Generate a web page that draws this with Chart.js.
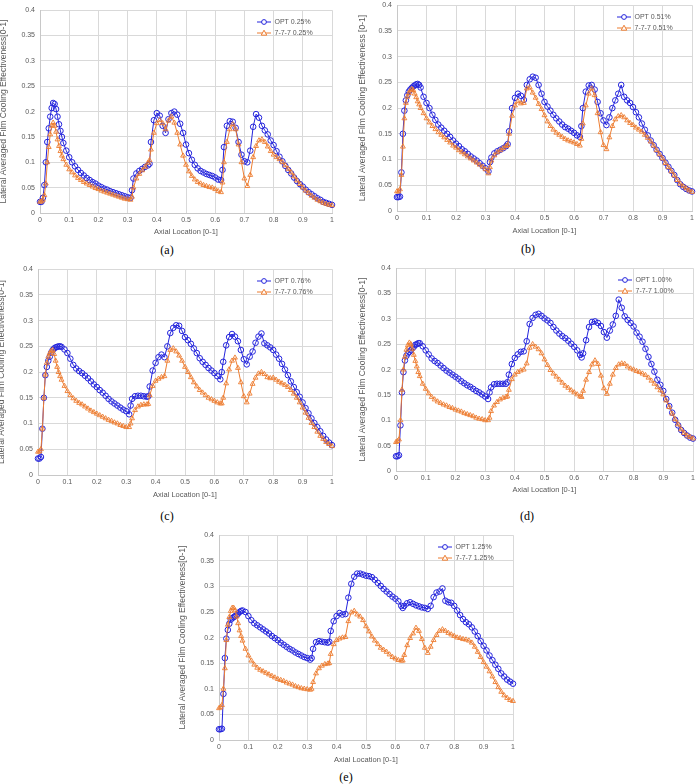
<!DOCTYPE html>
<html>
<head>
<meta charset="utf-8">
<script src="https://cdn.jsdelivr.net/npm/chart.js@4.4.1/dist/chart.umd.min.js"></script>
<style>
  body { margin: 0; background: #fff; width: 699px; height: 784px; position: relative; overflow: hidden; }
  canvas { position: absolute; }
  .cap { position: absolute; font-family: "Liberation Serif", "Times New Roman", serif; font-size: 12px; color: #000; transform: translate(-50%, -50%); }
</style>
</head>
<body>
<canvas id="ca"></canvas>
<canvas id="cb"></canvas>
<canvas id="cc"></canvas>
<canvas id="cd"></canvas>
<canvas id="ce"></canvas>
<div class="cap" style="left:167px;top:250px">(a)</div>
<div class="cap" style="left:528px;top:249px">(b)</div>
<div class="cap" style="left:167px;top:516px">(c)</div>
<div class="cap" style="left:527px;top:516px">(d)</div>
<div class="cap" style="left:346px;top:777px">(e)</div>
<script>
// shared axial stations [0-1]
const axialLocation = [
  0, 0.005, 0.01, 0.015, 0.02, 0.025, 0.03, 0.035, 0.04, 0.045, 0.05, 0.055, 0.06, 0.065, 0.07, 0.075, 0.08, 0.09,
  0.10, 0.11, 0.12, 0.13, 0.14, 0.15, 0.16, 0.17, 0.18, 0.19, 0.20, 0.21, 0.22, 0.23, 0.24, 0.25, 0.26, 0.27, 0.28, 0.29, 0.30, 0.31,
  0.315, 0.32, 0.33, 0.34, 0.35, 0.36, 0.37, 0.375,
  0.38, 0.39, 0.40, 0.41, 0.42, 0.43, 0.44, 0.45, 0.46, 0.47, 0.48, 0.49, 0.50, 0.51, 0.52, 0.53, 0.54, 0.55, 0.56, 0.57, 0.58, 0.59, 0.60, 0.61, 0.62,
  0.625, 0.63, 0.64, 0.65, 0.66, 0.67, 0.68, 0.69, 0.70, 0.71, 0.72, 0.73, 0.74, 0.75, 0.76, 0.77, 0.78, 0.79, 0.80, 0.81, 0.82, 0.83, 0.84, 0.85, 0.86, 0.87, 0.88, 0.89, 0.90, 0.91, 0.92, 0.93, 0.94, 0.95, 0.96, 0.97, 0.98, 0.99, 1.0
];

const opt025 = [
  0.022, 0.022, 0.03, 0.055, 0.1, 0.14, 0.167, 0.19, 0.207, 0.217, 0.215, 0.205, 0.19, 0.175, 0.162, 0.15, 0.138, 0.123,
  0.11, 0.1, 0.092, 0.085, 0.079, 0.074, 0.069, 0.065, 0.061, 0.058, 0.054, 0.051, 0.048, 0.046, 0.043, 0.041, 0.039, 0.037, 0.035, 0.033, 0.031, 0.03,
  0.045, 0.068, 0.078, 0.083, 0.087, 0.091, 0.094, 0.097,
  0.14, 0.183, 0.197, 0.192, 0.172, 0.158, 0.185, 0.197, 0.2, 0.194, 0.176, 0.158, 0.135, 0.118, 0.105, 0.095, 0.088, 0.083, 0.08, 0.077, 0.075, 0.073, 0.07, 0.066, 0.065,
  0.085, 0.13, 0.172, 0.181, 0.18, 0.168, 0.14, 0.115, 0.102, 0.1, 0.123, 0.17, 0.195, 0.188, 0.172, 0.163, 0.155, 0.143, 0.134, 0.122, 0.111, 0.102, 0.093, 0.085, 0.078, 0.07, 0.063, 0.057, 0.052, 0.046, 0.041, 0.037, 0.033, 0.029, 0.026, 0.022, 0.02, 0.018, 0.016
];
const ref025 = [
  0.022, 0.023, 0.026, 0.035, 0.058, 0.1, 0.13, 0.155, 0.172, 0.178, 0.172, 0.16, 0.145, 0.132, 0.122, 0.113, 0.106, 0.095,
  0.086, 0.08, 0.074, 0.069, 0.065, 0.061, 0.058, 0.055, 0.052, 0.049, 0.047, 0.044, 0.042, 0.04, 0.038, 0.036, 0.034, 0.032, 0.03, 0.028, 0.027, 0.026,
  0.032, 0.05, 0.068, 0.077, 0.084, 0.091, 0.099, 0.104,
  0.125, 0.158, 0.177, 0.183, 0.177, 0.165, 0.182, 0.19, 0.178, 0.158, 0.135, 0.113, 0.095, 0.082, 0.073, 0.066, 0.061, 0.058, 0.055, 0.053, 0.051, 0.05, 0.047, 0.043, 0.041,
  0.06, 0.1, 0.14, 0.165, 0.175, 0.165, 0.135, 0.1, 0.068, 0.053, 0.075, 0.11, 0.132, 0.143, 0.145, 0.14, 0.131, 0.122, 0.115, 0.11, 0.106, 0.1, 0.094, 0.087, 0.08, 0.072, 0.064, 0.057, 0.05, 0.044, 0.039, 0.034, 0.03, 0.026, 0.023, 0.02, 0.018, 0.016, 0.015
];

const opt051 = [
  0.027, 0.027, 0.028, 0.075, 0.15, 0.195, 0.215, 0.225, 0.232, 0.236, 0.239, 0.242, 0.244, 0.246, 0.247, 0.245, 0.24, 0.222,
  0.21, 0.2, 0.187, 0.177, 0.168, 0.162, 0.156, 0.15, 0.144, 0.137, 0.131, 0.126, 0.12, 0.116, 0.111, 0.106, 0.102, 0.098, 0.093, 0.088, 0.083, 0.077,
  0.095, 0.104, 0.112, 0.116, 0.119, 0.122, 0.126, 0.13,
  0.155, 0.2, 0.22, 0.228, 0.224, 0.216, 0.245, 0.256, 0.261, 0.259, 0.245, 0.228, 0.212, 0.203, 0.195, 0.187, 0.18, 0.174, 0.168, 0.163, 0.16, 0.156, 0.152, 0.147, 0.144,
  0.165, 0.2, 0.232, 0.244, 0.245, 0.236, 0.212, 0.19, 0.176, 0.167, 0.182, 0.2, 0.215, 0.228, 0.245, 0.222, 0.215, 0.21, 0.202, 0.192, 0.182, 0.17, 0.158, 0.147, 0.137, 0.128, 0.119, 0.111, 0.103, 0.094, 0.086, 0.078, 0.07, 0.06, 0.052, 0.047, 0.043, 0.04, 0.038
];
const ref051 = [
  0.038, 0.038, 0.042, 0.07, 0.125, 0.18, 0.21, 0.222, 0.229, 0.234, 0.237, 0.235, 0.228, 0.221, 0.213, 0.207, 0.2, 0.19,
  0.18, 0.172, 0.165, 0.159, 0.153, 0.148, 0.143, 0.138, 0.133, 0.127, 0.123, 0.118, 0.114, 0.11, 0.106, 0.102, 0.098, 0.094, 0.09, 0.086, 0.081, 0.073,
  0.085, 0.098, 0.108, 0.114, 0.118, 0.122, 0.126, 0.128,
  0.15, 0.185, 0.205, 0.213, 0.209, 0.21, 0.238, 0.24, 0.23, 0.22, 0.208, 0.198, 0.186, 0.174, 0.165, 0.158, 0.152, 0.148, 0.144, 0.14, 0.137, 0.135, 0.133, 0.13, 0.127,
  0.14, 0.17, 0.205, 0.228, 0.238, 0.225, 0.19, 0.153, 0.128, 0.12, 0.143, 0.165, 0.178, 0.184, 0.186, 0.182, 0.176, 0.171, 0.167, 0.162, 0.158, 0.154, 0.148, 0.142, 0.135, 0.127, 0.118, 0.11, 0.102, 0.093, 0.085, 0.077, 0.069, 0.06, 0.053, 0.048, 0.044, 0.04, 0.037
];

const opt076 = [
  0.032, 0.032, 0.035, 0.09, 0.15, 0.194, 0.21, 0.222, 0.23, 0.238, 0.243, 0.246, 0.248, 0.249, 0.25, 0.25, 0.249, 0.244,
  0.237, 0.226, 0.214, 0.207, 0.202, 0.198, 0.193, 0.188, 0.182, 0.176, 0.171, 0.165, 0.16, 0.154, 0.148, 0.143, 0.139, 0.135, 0.131, 0.127, 0.124, 0.118,
  0.135, 0.148, 0.153, 0.154, 0.154, 0.153, 0.152, 0.153,
  0.172, 0.203, 0.218, 0.229, 0.234, 0.229, 0.25, 0.276, 0.286, 0.291, 0.29, 0.28, 0.268, 0.262, 0.255, 0.246, 0.237, 0.227, 0.22, 0.214, 0.208, 0.203, 0.198, 0.192, 0.186,
  0.2, 0.22, 0.252, 0.268, 0.274, 0.269, 0.26, 0.243, 0.225, 0.215, 0.23, 0.24, 0.257, 0.269, 0.275, 0.256, 0.252, 0.248, 0.243, 0.234, 0.226, 0.216, 0.205, 0.194, 0.182, 0.171, 0.161, 0.152, 0.141, 0.13, 0.12, 0.11, 0.101, 0.093, 0.085, 0.076, 0.069, 0.063, 0.058
];
const ref076 = [
  0.045, 0.046, 0.05, 0.09, 0.15, 0.195, 0.218, 0.23, 0.237, 0.241, 0.243, 0.235, 0.222, 0.21, 0.2, 0.192, 0.185, 0.173,
  0.163, 0.155, 0.149, 0.144, 0.14, 0.137, 0.133, 0.129, 0.125, 0.122, 0.119, 0.116, 0.113, 0.11, 0.107, 0.105, 0.102, 0.1, 0.097, 0.095, 0.093, 0.093,
  0.1, 0.11, 0.126, 0.133, 0.136, 0.137, 0.137, 0.138,
  0.155, 0.173, 0.183, 0.187, 0.19, 0.192, 0.222, 0.243, 0.246, 0.24, 0.232, 0.222, 0.21, 0.2, 0.19, 0.18, 0.172, 0.165, 0.16, 0.155, 0.15, 0.147, 0.144, 0.141, 0.139,
  0.139, 0.15, 0.178, 0.205, 0.222, 0.228, 0.208, 0.18, 0.153, 0.141, 0.158, 0.177, 0.189, 0.197, 0.2, 0.196, 0.19, 0.188, 0.189, 0.185, 0.181, 0.178, 0.175, 0.171, 0.165, 0.158, 0.15, 0.141, 0.131, 0.121, 0.111, 0.101, 0.093, 0.084, 0.076, 0.07, 0.064, 0.06, 0.056
];

const opt100 = [
  0.029, 0.029, 0.031, 0.09, 0.155, 0.195, 0.218, 0.227, 0.232, 0.235, 0.238, 0.242, 0.245, 0.249, 0.25, 0.252, 0.252, 0.246,
  0.238, 0.23, 0.222, 0.217, 0.213, 0.208, 0.203, 0.198, 0.194, 0.19, 0.186, 0.182, 0.177, 0.173, 0.169, 0.166, 0.162, 0.158, 0.155, 0.151, 0.147, 0.142,
  0.155, 0.165, 0.171, 0.172, 0.172, 0.172, 0.172, 0.175,
  0.19, 0.211, 0.223, 0.23, 0.235, 0.236, 0.256, 0.29, 0.302, 0.308, 0.31, 0.306, 0.301, 0.297, 0.292, 0.284, 0.277, 0.271, 0.266, 0.262, 0.257, 0.251, 0.245, 0.238, 0.229,
  0.224, 0.232, 0.258, 0.284, 0.294, 0.295, 0.292, 0.286, 0.274, 0.263, 0.277, 0.289, 0.306, 0.338, 0.322, 0.305, 0.298, 0.292, 0.285, 0.273, 0.265, 0.255, 0.241, 0.225, 0.211, 0.196, 0.18, 0.17, 0.158, 0.142, 0.128, 0.115, 0.101, 0.09, 0.081, 0.075, 0.07, 0.066, 0.064
];
const ref100 = [
  0.057, 0.059, 0.062, 0.1, 0.16, 0.2, 0.225, 0.239, 0.248, 0.253, 0.25, 0.241, 0.229, 0.217, 0.206, 0.195, 0.187, 0.172,
  0.162, 0.153, 0.146, 0.141, 0.137, 0.134, 0.131, 0.129, 0.126, 0.124, 0.121, 0.119, 0.117, 0.114, 0.112, 0.11, 0.108, 0.105, 0.103, 0.102, 0.1, 0.1,
  0.105, 0.118, 0.129, 0.136, 0.141, 0.144, 0.146, 0.147,
  0.16, 0.181, 0.19, 0.195, 0.198, 0.2, 0.212, 0.243, 0.25, 0.245, 0.24, 0.232, 0.22, 0.209, 0.199, 0.192, 0.186, 0.18, 0.174, 0.168, 0.164, 0.159, 0.155, 0.151, 0.147,
  0.146, 0.158, 0.18, 0.195, 0.21, 0.218, 0.211, 0.188, 0.163, 0.152, 0.172, 0.19, 0.203, 0.21, 0.212, 0.211, 0.206, 0.202, 0.2, 0.197, 0.195, 0.192, 0.189, 0.184, 0.178, 0.172, 0.165, 0.159, 0.151, 0.139, 0.126, 0.113, 0.102, 0.092, 0.082, 0.075, 0.07, 0.067, 0.064
];

const opt125 = [
  0.021, 0.021, 0.022, 0.09, 0.16, 0.198, 0.215, 0.227, 0.235, 0.238, 0.24, 0.242, 0.244, 0.247, 0.25, 0.252, 0.253, 0.25,
  0.242, 0.234, 0.228, 0.224, 0.22, 0.216, 0.212, 0.208, 0.203, 0.199, 0.195, 0.19, 0.186, 0.182, 0.178, 0.175, 0.171, 0.168, 0.165, 0.162, 0.16, 0.157,
  0.16, 0.178, 0.191, 0.193, 0.192, 0.191, 0.19, 0.192,
  0.213, 0.232, 0.242, 0.248, 0.245, 0.246, 0.278, 0.305, 0.319, 0.325, 0.325, 0.323, 0.321, 0.32, 0.318, 0.313, 0.307, 0.301, 0.295, 0.29, 0.285, 0.28, 0.276, 0.271, 0.262,
  0.258, 0.262, 0.267, 0.269, 0.266, 0.263, 0.261, 0.259, 0.258, 0.256, 0.262, 0.279, 0.288, 0.29, 0.296, 0.272, 0.269, 0.268, 0.262, 0.253, 0.244, 0.236, 0.23, 0.226, 0.22, 0.212, 0.203, 0.193, 0.184, 0.175, 0.165, 0.156, 0.147, 0.139, 0.13, 0.124, 0.118, 0.114, 0.11
];
const ref125 = [
  0.062, 0.064, 0.068, 0.1, 0.14, 0.195, 0.225, 0.24, 0.252, 0.258, 0.258, 0.253, 0.241, 0.228, 0.214, 0.203, 0.194, 0.178,
  0.165, 0.155, 0.147, 0.141, 0.137, 0.134, 0.131, 0.128, 0.125, 0.122, 0.119, 0.117, 0.115, 0.112, 0.11, 0.108, 0.105, 0.103, 0.101, 0.1, 0.099, 0.098,
  0.1, 0.113, 0.13, 0.14, 0.145, 0.148, 0.149, 0.15,
  0.168, 0.187, 0.195, 0.198, 0.2, 0.201, 0.232, 0.249, 0.252, 0.245, 0.241, 0.234, 0.222, 0.212, 0.202, 0.194, 0.187, 0.18, 0.176, 0.172, 0.167, 0.162, 0.159, 0.156, 0.155,
  0.155, 0.166, 0.185, 0.199, 0.208, 0.219, 0.213, 0.197, 0.18, 0.17, 0.182, 0.195, 0.205, 0.213, 0.216, 0.213, 0.209, 0.206, 0.203, 0.2, 0.199, 0.197, 0.196, 0.194, 0.19, 0.182, 0.172, 0.162, 0.152, 0.143, 0.134, 0.124, 0.113, 0.103, 0.094, 0.087, 0.082, 0.078, 0.076
];

const xTickLabels = ['0', '0.1', '0.2', '0.3', '0.4', '0.5', '0.6', '0.7', '0.8', '0.9', '1'];
const yTickLabels = ['0', '0.05', '0.1', '0.15', '0.2', '0.25', '0.3', '0.35', '0.4'];
const optNames = ['OPT 0.25%', 'OPT 0.51%', 'OPT 0.76%', 'OPT 1.00%', 'OPT 1.25%'];
const refNames = ['7-7-7 0.25%', '7-7-7 0.51%', '7-7-7 0.76%', '7-7-7 1.00%', '7-7-7 1.25%'];

const BLUE = '#2424dc';
const ORANGE = '#ed7d31';
const TXT = '#595959';
Chart.defaults.font.family = '"Liberation Sans", Arial, sans-serif';

// page placement of each panel (plot area edges, title centres)
const panels = [
  { id: 'ca', opt: opt025, ref: ref025, k: 0, yTitle: 'Lateral Averaged Film Cooling Effectiveness[0-1]', titleX: 4.5, left: 40, top: 9, right: 332, bottom: 213, xTitleY: 231 },
  { id: 'cb', opt: opt051, ref: ref051, k: 1, yTitle: 'Lateral Averaged Film Cooling Effectiveness [0-1]', titleX: 363, left: 397, top: 4, right: 692, bottom: 211, xTitleY: 230 },
  { id: 'cc', opt: opt076, ref: ref076, k: 2, yTitle: 'Lateral Averaged Film Cooling Effectiveness[0-1]', titleX: 2, left: 38, top: 268, right: 332, bottom: 475, xTitleY: 494 },
  { id: 'cd', opt: opt100, ref: ref100, k: 3, yTitle: 'Lateral Averaged Film Cooling Effectiveness[0-1]', titleX: 363, left: 396, top: 267, right: 693, bottom: 471, xTitleY: 489 },
  { id: 'ce', opt: opt125, ref: ref125, k: 4, yTitle: 'Lateral Averaged Film Cooling Effectiveness[0-1]', titleX: 183, left: 219, top: 534, right: 513, bottom: 740, xTitleY: 759 }
];

// excel-like legend swatch: short line with the marker on it
function swatch(color, shape) {
  const c = document.createElement('canvas');
  c.width = 14; c.height = 8;
  const g = c.getContext('2d');
  g.strokeStyle = color; g.lineWidth = 1;
  g.beginPath(); g.moveTo(0, 4); g.lineTo(14, 4); g.stroke();
  g.fillStyle = '#fff';
  g.beginPath();
  if (shape === 'circle') {
    g.arc(7, 4, 2.4, 0, Math.PI * 2);
  } else {
    g.moveTo(7, 1.2); g.lineTo(9.8, 6.2); g.lineTo(4.2, 6.2); g.closePath();
  }
  g.fill(); g.stroke();
  return c;
}
const optSwatch = swatch(BLUE, 'circle');
const refSwatch = swatch(ORANGE, 'triangle');

const legendPlace = {
  id: 'legendPlace',
  beforeDraw(chart) {
    const lg = chart.legend, ca = chart.chartArea;
    const pad = lg.options.labels.padding;
    lg.left = ca.right - 75 - pad; lg.right = lg.left + lg.width;
    lg.top = ca.top + 8.3 - pad; lg.bottom = lg.top + lg.height;
  }
};

function drawPanel(p) {
  const cl = Math.round(p.titleX - 5.1);
  const ct = p.top - 8;
  const cw = p.right + 8 - cl;
  const xH = Math.round(p.xTitleY + 5.5 - p.bottom);
  const ch = p.bottom + xH + 1 - ct;
  const cv = document.getElementById(p.id);
  cv.width = cw; cv.height = ch;
  cv.style.left = cl + 'px'; cv.style.top = ct + 'px';

  const pts = (arr) => axialLocation.map((x, i) => ({ x: x, y: arr[i] }));

  new Chart(cv, {
    type: 'line',
    data: {
      datasets: [
        {
          label: optNames[p.k], data: pts(p.opt), order: 1,
          borderColor: BLUE, borderWidth: 1,
          pointStyle: 'circle', pointRadius: 2.8, pointBorderWidth: 1,
          pointBorderColor: BLUE, pointBackgroundColor: 'rgba(0,0,0,0)', clip: false
        },
        {
          label: refNames[p.k], data: pts(p.ref), order: 0,
          borderColor: ORANGE, borderWidth: 1,
          pointStyle: 'triangle', pointRadius: 2.8, pointBorderWidth: 0.9,
          pointBorderColor: ORANGE, pointBackgroundColor: 'rgba(0,0,0,0)', clip: false
        }
      ]
    },
    options: {
      responsive: false,
      animation: false,
      devicePixelRatio: 1,
      events: [],
      layout: { padding: { left: 0, top: 8, right: 8, bottom: 1 } },
      plugins: {
        tooltip: { enabled: false },
        legend: {
          position: 'chartArea',
          align: 'start',
          labels: {
            usePointStyle: true,
            pointStyleWidth: 14,
            padding: 4,
            color: TXT,
            font: { size: 7 },
            sort: (a, b) => a.datasetIndex - b.datasetIndex,
            generateLabels(chart) {
              const items = Chart.defaults.plugins.legend.labels.generateLabels(chart);
              items.forEach(it => { it.pointStyle = it.datasetIndex === 0 ? optSwatch : refSwatch; });
              return items;
            }
          }
        }
      },
      scales: {
        x: {
          type: 'linear', min: 0, max: 1,
          grid: { color: '#d9d9d9', drawTicks: false },
          border: { color: '#c8c8c8' },
          ticks: {
            stepSize: 0.1, autoSkip: false, maxRotation: 0, padding: 3,
            color: TXT, font: { size: 7 },
            callback: (v, i) => xTickLabels[i]
          },
          title: { display: true, text: 'Axial Location [0-1]', color: TXT, font: { size: 7.5 }, padding: { top: 0, bottom: 1 } },
          afterFit: (s) => { s.height = xH; }
        },
        y: {
          type: 'linear', min: 0, max: 0.4,
          grid: { color: '#d9d9d9', drawTicks: false },
          border: { color: '#c8c8c8' },
          ticks: {
            stepSize: 0.05, autoSkip: false, padding: 5,
            color: TXT, font: { size: 7 },
            callback: (v, i) => yTickLabels[i]
          },
          title: { display: true, text: p.yTitle, color: TXT, font: { size: 8.5 }, padding: 0 },
          afterFit: (s) => { s.width = p.left - cl; }
        }
      }
    },
    plugins: [legendPlace]
  });
}

panels.forEach(drawPanel);
</script>
</body>
</html>
